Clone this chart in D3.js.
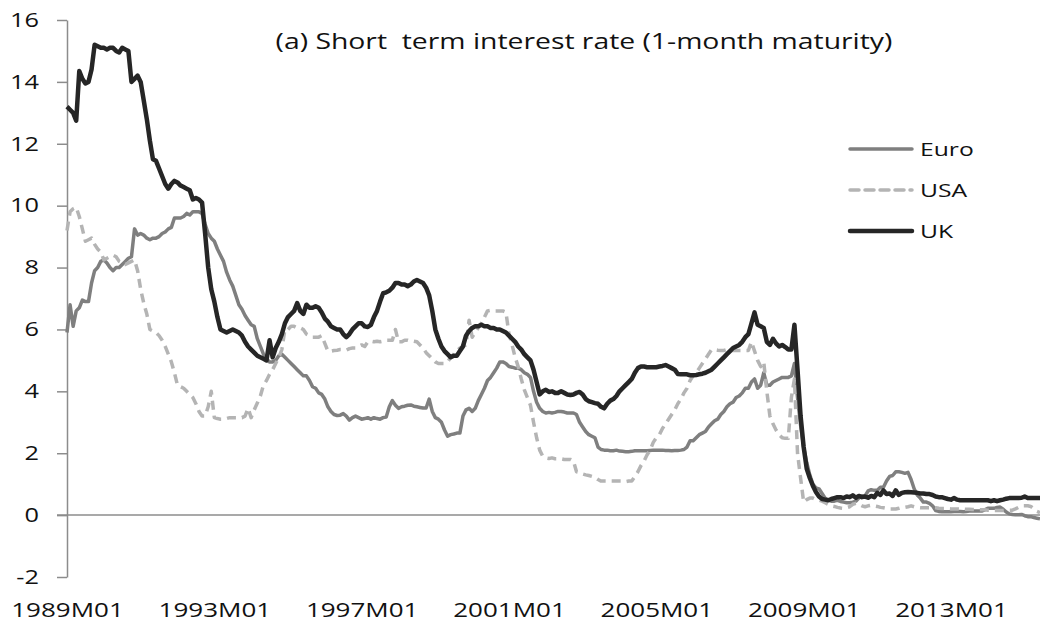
<!DOCTYPE html>
<html lang="en">
<head>
	<meta charset="utf-8">
	<title>Short term interest rate (1-month maturity)</title>
	<script src="https://d3js.org/d3.v7.min.js"></script>
	<style>
		body {
		    margin: 0;
		    background: #fff;
		    font-family: "Open Sans", sans-serif;
		}
		text {
		    fill: #111;
		}
		.series {
		    fill: none;
		    stroke-linejoin: round;
		}
	</style>
</head>
<body>
	<script>
		// Monthly values, 1989M01 to 2015M06 (one row per year)
		var euro = [
			5.9, 6.8, 6.1, 6.6, 6.7, 6.95, 6.9, 6.9, 7.5, 7.9, 8.0, 8.2,
			8.25, 8.15, 8.0, 7.9, 8.0, 8.0, 8.1, 8.2, 8.3, 8.35, 9.25, 9.05,
			9.1, 9.05, 8.95, 8.9, 8.95, 8.95, 9.0, 9.1, 9.15, 9.25, 9.3, 9.6,
			9.6, 9.6, 9.65, 9.75, 9.7, 9.8, 9.8, 9.8, 9.75, 9.4, 9.1, 8.95,
			8.85, 8.6, 8.4, 8.2, 7.85, 7.6, 7.4, 7.1, 6.8, 6.65, 6.45, 6.3,
			6.15, 6.1, 5.7, 5.45, 5.2, 5.05, 4.95, 4.95, 5.0, 5.15, 5.2, 5.1,
			5.0, 4.9, 4.8, 4.7, 4.6, 4.5, 4.5, 4.35, 4.15, 4.1, 3.95, 3.9,
			3.75, 3.5, 3.35, 3.25, 3.22, 3.23, 3.28, 3.2, 3.07, 3.15, 3.2, 3.15,
			3.1, 3.12, 3.15, 3.1, 3.15, 3.12, 3.1, 3.15, 3.17, 3.5, 3.7, 3.55,
			3.45, 3.5, 3.52, 3.55, 3.56, 3.52, 3.5, 3.48, 3.46, 3.46, 3.75, 3.35,
			3.15, 3.1, 3.0, 2.75, 2.55, 2.6, 2.62, 2.65, 2.65, 3.2, 3.4, 3.45,
			3.35, 3.45, 3.7, 3.9, 4.1, 4.35, 4.45, 4.6, 4.75, 4.95, 4.95, 4.9,
			4.8, 4.78, 4.75, 4.75, 4.7, 4.6, 4.55, 4.45, 4.0, 3.65, 3.45, 3.35,
			3.3, 3.32, 3.3, 3.32, 3.35, 3.35, 3.33, 3.3, 3.3, 3.3, 3.25, 3.0,
			2.85, 2.7, 2.6, 2.55, 2.5, 2.2, 2.12, 2.1, 2.1, 2.08, 2.08, 2.1,
			2.07, 2.06, 2.05, 2.05, 2.06, 2.08, 2.08, 2.08, 2.08, 2.08, 2.09, 2.1,
			2.1, 2.1, 2.1, 2.09, 2.09, 2.08, 2.09, 2.09, 2.1, 2.12, 2.2, 2.4,
			2.4, 2.5, 2.6, 2.65, 2.7, 2.85, 2.95, 3.05, 3.1, 3.25, 3.35, 3.5,
			3.6, 3.65, 3.8, 3.85, 3.95, 4.1, 4.1, 4.3, 4.4, 4.1, 4.2, 4.6,
			4.2, 4.2, 4.3, 4.35, 4.4, 4.45, 4.45, 4.45, 4.5, 4.9, 3.8, 2.9,
			2.2, 1.7, 1.3, 1.0, 0.88, 0.85, 0.7, 0.55, 0.48, 0.45, 0.45, 0.48,
			0.44, 0.42, 0.4, 0.4, 0.42, 0.45, 0.55, 0.62, 0.62, 0.78, 0.82, 0.8,
			0.8, 0.9, 0.9, 1.1, 1.25, 1.28, 1.4, 1.4, 1.38, 1.35, 1.38, 1.15,
			0.85, 0.65, 0.55, 0.42, 0.42, 0.38, 0.3, 0.15, 0.12, 0.11, 0.11, 0.11,
			0.11, 0.12, 0.12, 0.12, 0.11, 0.12, 0.13, 0.13, 0.13, 0.13, 0.13, 0.17,
			0.22, 0.22, 0.22, 0.25, 0.26, 0.19, 0.1, 0.04, 0.02, 0.01, 0.01, 0.02,
			-0.02, -0.05, -0.05, -0.08, -0.1, -0.12
		];

		var usa = [
			9.2, 9.8, 9.9, 9.95, 9.65, 9.25, 8.85, 8.9, 8.95, 8.75, 8.6, 8.5,
			8.25, 8.3, 8.35, 8.4, 8.35, 8.2, 8.15, 8.1, 8.15, 8.2, 8.25, 7.9,
			7.3, 6.85, 6.5, 6.0, 5.95, 5.9, 5.8, 5.65, 5.45, 5.2, 4.95, 4.6,
			4.2, 4.15, 4.1, 4.0, 3.9, 3.8, 3.6, 3.35, 3.2, 3.2, 3.5, 4.0,
			3.15, 3.12, 3.1, 3.1, 3.12, 3.15, 3.15, 3.15, 3.15, 3.15, 3.2, 3.45,
			3.15, 3.4, 3.62, 3.85, 4.2, 4.35, 4.55, 4.7, 4.9, 5.1, 5.35, 6.0,
			6.0, 6.1, 6.1, 6.05, 6.05, 6.0, 5.85, 5.8, 5.75, 5.75, 5.75, 5.8,
			5.55, 5.3, 5.3, 5.32, 5.33, 5.35, 5.35, 5.33, 5.38, 5.4, 5.4, 5.45,
			5.5, 5.45, 5.6, 5.62, 5.6, 5.62, 5.6, 5.62, 5.65, 5.65, 5.65, 6.0,
			5.6, 5.6, 5.65, 5.65, 5.62, 5.62, 5.6, 5.5, 5.4, 5.25, 5.15, 5.05,
			4.95, 4.9, 4.9, 4.9, 4.95, 5.1, 5.2, 5.3, 5.4, 5.45, 5.5, 6.3,
			5.75, 5.9, 6.05, 6.2, 6.4, 6.6, 6.62, 6.6, 6.6, 6.6, 6.6, 6.56,
			5.85, 5.5, 5.1, 4.8, 4.4, 4.05, 3.8, 3.55, 3.0, 2.5, 2.1, 1.9,
			1.85, 1.83, 1.85, 1.82, 1.82, 1.82, 1.8, 1.8, 1.8, 1.75, 1.4, 1.38,
			1.33, 1.3, 1.28, 1.25, 1.22, 1.15, 1.1, 1.1, 1.1, 1.1, 1.1, 1.1,
			1.1, 1.1, 1.08, 1.1, 1.1, 1.25, 1.4, 1.6, 1.75, 1.95, 2.1, 2.35,
			2.5, 2.6, 2.8, 2.95, 3.1, 3.25, 3.4, 3.6, 3.75, 3.95, 4.1, 4.35,
			4.5, 4.6, 4.75, 4.9, 5.05, 5.2, 5.35, 5.35, 5.33, 5.32, 5.32, 5.35,
			5.32, 5.32, 5.32, 5.32, 5.32, 5.32, 5.32, 5.6, 5.3, 5.0, 4.8, 4.95,
			4.0, 3.2, 2.95, 2.75, 2.6, 2.5, 2.48, 2.48, 3.8, 4.4, 2.0, 1.2,
			0.42, 0.5, 0.55, 0.55, 0.5, 0.48, 0.45, 0.4, 0.35, 0.3, 0.28, 0.25,
			0.23, 0.22, 0.24, 0.27, 0.35, 0.38, 0.35, 0.3, 0.27, 0.3, 0.32, 0.3,
			0.28, 0.25, 0.24, 0.22, 0.2, 0.2, 0.2, 0.22, 0.25, 0.25, 0.27, 0.3,
			0.27, 0.25, 0.24, 0.24, 0.24, 0.24, 0.25, 0.24, 0.22, 0.21, 0.21, 0.21,
			0.2, 0.2, 0.2, 0.19, 0.19, 0.19, 0.19, 0.18, 0.18, 0.17, 0.17, 0.17,
			0.16, 0.16, 0.15, 0.15, 0.15, 0.15, 0.16, 0.16, 0.16, 0.2, 0.25, 0.3,
			0.3, 0.3, 0.28, 0.2, 0.12, 0.08
		];

		var uk = [
			13.2, 13.1, 13.0, 12.75, 14.35, 14.1, 13.95, 14.0, 14.4, 15.2, 15.15, 15.1,
			15.1, 15.05, 15.1, 15.1, 15.0, 14.95, 15.1, 15.05, 15.0, 14.0, 14.1, 14.2,
			14.0, 13.4, 12.8, 12.1, 11.5, 11.45, 11.2, 10.95, 10.7, 10.55, 10.7, 10.8,
			10.75, 10.65, 10.6, 10.55, 10.5, 10.2, 10.25, 10.2, 10.1, 9.1, 8.0, 7.3,
			6.9, 6.4, 6.0, 5.95, 5.9, 5.95, 6.0, 5.95, 5.9, 5.8, 5.6, 5.45,
			5.35, 5.25, 5.15, 5.1, 5.05, 5.0, 5.65, 5.1, 5.4, 5.6, 5.85, 6.2,
			6.4, 6.5, 6.6, 6.85, 6.6, 6.5, 6.8, 6.7, 6.7, 6.75, 6.7, 6.55,
			6.35, 6.25, 6.1, 6.05, 6.0, 6.0, 5.85, 5.75, 5.85, 6.0, 6.1, 6.2,
			6.2, 6.1, 6.08, 6.15, 6.4, 6.6, 6.9, 7.17, 7.2, 7.25, 7.35, 7.5,
			7.5, 7.45, 7.45, 7.4, 7.45, 7.55, 7.6, 7.55, 7.5, 7.35, 7.1, 6.6,
			6.0, 5.7, 5.45, 5.3, 5.2, 5.1, 5.15, 5.15, 5.3, 5.45, 5.8, 5.95,
			6.05, 6.1, 6.1, 6.15, 6.1, 6.1, 6.05, 6.05, 6.0, 6.0, 5.95, 5.9,
			5.8, 5.7, 5.6, 5.45, 5.35, 5.2, 5.1, 5.0, 4.7, 4.3, 3.9, 4.0,
			4.05, 3.98, 4.0, 3.95, 3.95, 4.0, 3.95, 3.9, 3.88, 3.9, 3.95, 3.98,
			3.9, 3.75, 3.68, 3.65, 3.62, 3.6, 3.5, 3.45, 3.6, 3.7, 3.75, 3.85,
			4.0, 4.1, 4.2, 4.3, 4.4, 4.6, 4.75, 4.8, 4.8, 4.78, 4.78, 4.78,
			4.78, 4.8, 4.82, 4.85, 4.8, 4.75, 4.7, 4.56, 4.55, 4.55, 4.55, 4.52,
			4.52, 4.53, 4.55, 4.57, 4.6, 4.65, 4.7, 4.8, 4.9, 5.0, 5.1, 5.2,
			5.3, 5.4, 5.45, 5.5, 5.6, 5.75, 5.85, 6.2, 6.55, 6.15, 6.1, 6.05,
			5.6, 5.5, 5.7, 5.55, 5.45, 5.5, 5.43, 5.35, 5.35, 6.15, 4.7, 3.2,
			2.2, 1.5, 1.2, 0.95, 0.75, 0.6, 0.52, 0.5, 0.48, 0.52, 0.55, 0.58,
			0.58, 0.55, 0.6, 0.58, 0.64, 0.56, 0.62, 0.58, 0.6, 0.56, 0.62, 0.58,
			0.72, 0.65, 0.8, 0.68, 0.7, 0.62, 0.8, 0.65, 0.72, 0.74, 0.75, 0.74,
			0.73, 0.72, 0.7, 0.7, 0.68, 0.68, 0.65, 0.6, 0.58, 0.58, 0.55, 0.52,
			0.5, 0.55, 0.5, 0.48, 0.48, 0.48, 0.48, 0.48, 0.48, 0.48, 0.48, 0.48,
			0.48, 0.45, 0.48, 0.45, 0.48, 0.5, 0.53, 0.55, 0.55, 0.55, 0.55, 0.56,
			0.6, 0.55, 0.55, 0.55, 0.55, 0.55
		];

		var seriesNames = ["Euro", "USA", "UK"];
		var xTickLabels = ["1989M01", "1993M01", "1997M01", "2001M01", "2005M01", "2009M01", "2013M01"];
		var yTicks = [-2, 0, 2, 4, 6, 8, 10, 12, 14, 16];
		var title = "(a) Short  term interest rate (1-month maturity)";

		var width = 1040;
		var height = 625;
		var stretch = "scale(1.3,1)";   // the original picture is stretched sideways

		var svg = d3.select("body")
		    .append("svg")
		    .attr("width", width)
		    .attr("height", height);

		var x = d3.scaleLinear()
		    .domain([0, uk.length - 1])
		    .range([67, 1040]);

		var y = d3.scaleLinear()
		    .domain([-2, 16])
		    .range([577, 20]);

		// zero line
		svg.append("line")
		    .attr("x1", 57)
		    .attr("x2", width)
		    .attr("y1", y(0))
		    .attr("y2", y(0))
		    .attr("stroke", "#8c8c8c")
		    .attr("stroke-width", 1.5);

		// y axis
		var yAxis = svg.append("g")
		    .attr("transform", "translate(67,0)")
		    .call(d3.axisLeft(y)
		        .tickValues(yTicks)
		        .tickFormat(function(d) { return String(d); })
		        .tickSize(10)
		        .tickSizeOuter(0));
		yAxis.selectAll("path, line").attr("stroke", "#8c8c8c").attr("stroke-width", 1.5);
		yAxis.selectAll("text")
		    .attr("x", 0)
		    .attr("transform", "translate(-28,0) " + stretch)
		    .attr("font-family", "Open Sans")
		    .attr("font-size", 19.5)
		    .style("fill", "#111");

		// x labels, no tick marks
		var xAxis = svg.append("g")
		    .attr("transform", "translate(0,577)")
		    .call(d3.axisBottom(x)
		        .tickValues(xTickLabels.map(function(d, i) { return i * 48; }))
		        .tickFormat(function(d, i) { return xTickLabels[i]; })
		        .tickSize(0)
		        .tickPadding(26));
		xAxis.select(".domain").remove();
		xAxis.selectAll("text")
		    .attr("y", 0)
		    .attr("transform", "translate(0,26) " + stretch)
		    .attr("font-family", "Open Sans")
		    .attr("font-size", 20)
		    .style("fill", "#111");

		var line = d3.line()
		    .x(function(d, i) { return x(i); })
		    .y(function(d) { return y(d); });

		var styles = {
			Euro: { data: euro, color: "#7f7f7f", width: 3.5, dash: null },
			USA: { data: usa, color: "#b4b4b4", width: 3.5, dash: "9,6" },
			UK: { data: uk, color: "#262626", width: 4.5, dash: null }
		};

		seriesNames.forEach(function(name) {
			var s = styles[name];
			svg.append("path")
			    .datum(s.data)
			    .attr("class", "series")
			    .attr("stroke", s.color)
			    .attr("stroke-width", s.width)
			    .attr("stroke-dasharray", s.dash)
			    .attr("d", line);
		});

		// title
		svg.append("text")
		    .attr("transform", "translate(584,49) " + stretch)
		    .attr("text-anchor", "middle")
		    .attr("font-size", 21.8)
		    .style("white-space", "pre")
		    .text(title);

		// legend
		var legend = svg.selectAll(".legend")
		    .data(seriesNames)
		    .enter()
		    .append("g")
		    .attr("class", "legend")
		    .attr("transform", function(d, i) { return "translate(0," + (149 + i * 41) + ")"; });

		legend.append("line")
		    .attr("x1", 850)
		    .attr("x2", 912)
		    .attr("stroke", function(d) { return styles[d].color; })
		    .attr("stroke-width", function(d) { return styles[d].width; })
		    .attr("stroke-dasharray", function(d) { return styles[d].dash; })
		    .attr("stroke-linecap", "round");

		legend.append("text")
		    .attr("transform", "translate(920,0) " + stretch)
		    .attr("dy", "0.35em")
		    .attr("font-size", 19)
		    .text(function(d) { return d; });
	</script>
</body>
</html>
